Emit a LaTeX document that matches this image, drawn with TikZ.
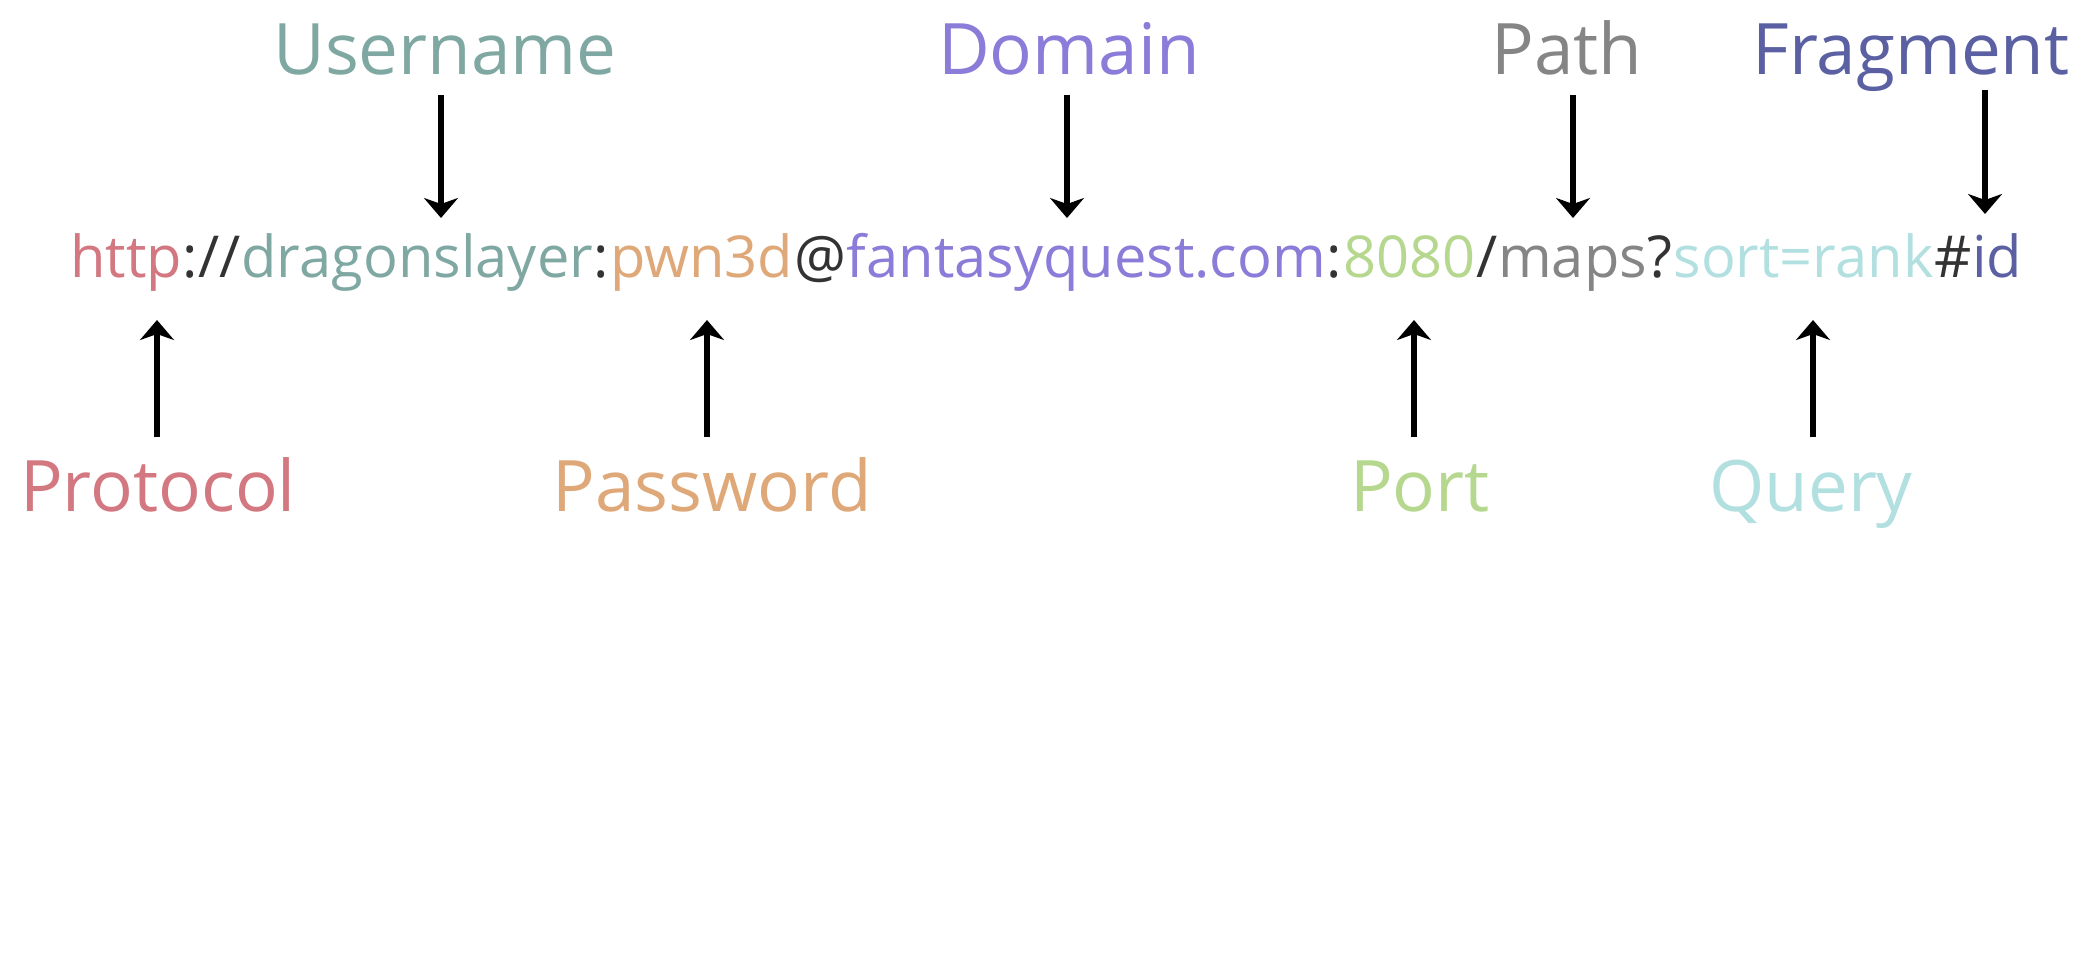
\documentclass[tikz,border=0pt]{standalone}
\usepackage{fontspec}
\setmainfont{Open Sans}
\usetikzlibrary{arrows.meta}
\definecolor{cproto}{HTML}{D37880}
\definecolor{cuser}{HTML}{80A8A2}
\definecolor{cpass}{HTML}{DFA878}
\definecolor{cdom}{HTML}{8A7CD8}
\definecolor{cport}{HTML}{B6D88E}
\definecolor{cpath}{HTML}{858585}
\definecolor{cquery}{HTML}{B2E0E0}
\definecolor{cfrag}{HTML}{5A60A2}
\definecolor{csep}{HTML}{333333}
\begin{document}
\begin{tikzpicture}[x=0.5pt,y=-0.5pt,
  lbl/.style={inner sep=0pt, anchor=base, font=\fontsize{35.5}{42}\selectfont},
  seg/.style={inner sep=0pt, anchor=base west, font=\fontsize{28.9}{35}\selectfont},
  arr/.style={line width=3.4pt, -{Stealth[length=10pt,width=17pt,inset=3pt]}}]
\useasboundingbox[fill=white] (0,0) rectangle (2096,960);
% URL segments
\node[seg, text=cproto] (s1) at (70,277) {http};
\node[seg, text=csep] (s2) at (s1.base east) {://};
\node[seg, text=cuser] (s3) at (s2.base east) {dragonslayer};
\node[seg, text=csep] (s4) at (s3.base east) {:};
\node[seg, text=cpass] (s5) at (s4.base east) {pwn3d};
\node[seg, text=csep] (s6) at (s5.base east) {@};
\node[seg, text=cdom] (s7) at (s6.base east) {fantasyquest.com};
\node[seg, text=csep] (s8) at (s7.base east) {:};
\node[seg, text=cport] (s9) at (s8.base east) {8080};
\node[seg, text=csep] (s10) at (s9.base east) {/};
\node[seg, text=cpath] (s11) at (s10.base east) {maps};
\node[seg, text=csep] (s12) at (s11.base east) {?};
\node[seg, text=cquery] (s13) at (s12.base east) {sort=rank};
\node[seg, text=csep] (s14) at (s13.base east) {\#};
\node[seg, text=cfrag] (s15) at (s14.base east) {id};
% labels top
\node[lbl, text=cuser] (lUser) at (445,74) {Username};
\node[lbl, text=cdom] (lDom) at (1069,74) {Domain};
\node[lbl, text=cpath] (lPath) at (1567,74) {Path};
\node[lbl, text=cfrag] (lFrag) at (1911,74) {Fragment};
% labels bottom
\node[lbl, text=cproto] (lProto) at (158,511) {Protocol};
\node[lbl, text=cpass] (lPass) at (712,511) {Password};
\node[lbl, text=cport] (lPort) at (1420,511) {Port};
\node[lbl, text=cquery] (lQuery) at (1811,511) {Query};
% arrow coordinates
\coordinate (aU1) at (441,95);  \coordinate (aU2) at (441,218);
\coordinate (aD1) at (1067,95); \coordinate (aD2) at (1067,218);
\coordinate (aP1) at (1573,95); \coordinate (aP2) at (1573,218);
\coordinate (aF1) at (1985,90); \coordinate (aF2) at (1985,214);
\coordinate (bPr1) at (157,437); \coordinate (bPr2) at (157,320);
\coordinate (bPa1) at (707,437); \coordinate (bPa2) at (707,320);
\coordinate (bPo1) at (1414,437); \coordinate (bPo2) at (1414,320);
\coordinate (bQ1) at (1813,437); \coordinate (bQ2) at (1813,320);
\draw[arr] (aU1) -- (aU2);
\draw[arr] (aD1) -- (aD2);
\draw[arr] (aP1) -- (aP2);
\draw[arr] (aF1) -- (aF2);
\draw[arr] (bPr1) -- (bPr2);
\draw[arr] (bPa1) -- (bPa2);
\draw[arr] (bPo1) -- (bPo2);
\draw[arr] (bQ1) -- (bQ2);
\end{tikzpicture}
\end{document}
